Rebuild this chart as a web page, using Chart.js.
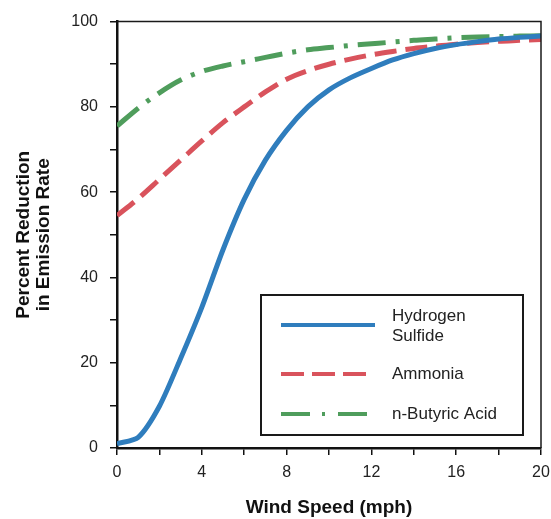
<!DOCTYPE html>
<html lang="en">
<head>
<meta charset="UTF-8">
<title>Percent Reduction in Emission Rate vs Wind Speed</title>
<script src="https://cdn.jsdelivr.net/npm/chart.js@4/dist/chart.umd.min.js"></script>
<style>
    body { margin: 0; background: #fff; }
    .chart-box { width: 551px; height: 519px; }
</style>
</head>
<body>
<div class="chart-box"><canvas id="emissionChart"></canvas></div>
<script>
    // wind speed (mph)
    const windSpeed = [0, 1, 2, 3, 4, 5, 6, 7, 8, 9, 10, 11, 12, 13, 14, 15, 16, 17, 18, 19, 20];
    const hydrogenSulfide = [1, 2.5, 9.8, 21, 33, 46.5, 58.3, 67.5, 74.5, 80, 84, 86.8, 89, 91, 92.5, 93.7, 94.6, 95.3, 95.9, 96.3, 96.6];
    const ammonia = [54.5, 58.5, 63, 67.5, 72, 76.3, 80, 83.5, 86.5, 88.5, 90, 91.2, 92.2, 93, 93.7, 94.2, 94.7, 95.1, 95.4, 95.6, 95.8];
    const butyricAcid = [75.5, 79.7, 83.3, 86.3, 88.3, 89.6, 90.6, 91.6, 92.6, 93.4, 93.9, 94.4, 94.8, 95.2, 95.6, 95.9, 96.2, 96.4, 96.5, 96.6, 96.7];
    const seriesNames = [['Hydrogen', 'Sulfide'], ['Ammonia'], ['n-Butyric Acid']];

    const toPoints = vals => vals.map((v, i) => ({ x: windSpeed[i], y: v }));
    const FONT = '"Liberation Sans", Arial, sans-serif';

    // box round the plot and the framed legend
    const frameAndLegend = {
        id: 'frameAndLegend',
        afterDraw(chart) {
            const ctx = chart.ctx;
            const a = chart.chartArea;
            ctx.save();
            ctx.strokeStyle = '#1a1a1a';
            ctx.lineWidth = 1.5;
            ctx.beginPath();
            ctx.moveTo(a.left, a.top);
            ctx.lineTo(a.right, a.top);
            ctx.lineTo(a.right, a.bottom);
            ctx.stroke();

            // legend
            const bx = 261, by = 295, bw = 262, bh = 140;
            ctx.lineWidth = 2;
            ctx.strokeRect(bx, by, bw, bh);
            const rows = [325, 374, 414];
            const legendDash = [[], [23, 8], [29, 12, 3, 13]];
            ctx.font = '17px ' + FONT;
            ctx.textBaseline = 'middle';
            chart.data.datasets.forEach((ds, i) => {
                const y = rows[i];
                ctx.strokeStyle = ds.borderColor;
                ctx.lineWidth = 4;
                ctx.setLineDash(legendDash[i]);
                ctx.beginPath();
                ctx.moveTo(281, y);
                ctx.lineTo(i === 0 ? 375 : 367, y);
                ctx.stroke();
                ctx.setLineDash([]);
                ctx.fillStyle = '#222';
                const lines = seriesNames[i];
                const ty = lines.length > 1 ? y - 9 : y;
                lines.forEach((t, k) => ctx.fillText(t, 392, ty + k * 20));
            });
            ctx.restore();
        }
    };

    const ctx = document.getElementById('emissionChart').getContext('2d');
    new Chart(ctx, {
        type: 'line',
        data: {
            datasets: [{
                label: 'Hydrogen Sulfide',
                data: toPoints(hydrogenSulfide),
                borderColor: '#2f7dbd',
                borderWidth: 5,
                pointRadius: 0,
                tension: 0.25
            }, {
                label: 'Ammonia',
                data: toPoints(ammonia),
                borderColor: '#d9535c',
                borderWidth: 5,
                borderDash: [22, 9],
                pointRadius: 0,
                cubicInterpolationMode: 'monotone'
            }, {
                label: 'n-Butyric Acid',
                data: toPoints(butyricAcid),
                borderColor: '#4f9d5c',
                borderWidth: 5,
                borderDash: [28, 10, 4, 10],
                pointRadius: 0,
                cubicInterpolationMode: 'monotone'
            }]
        },
        options: {
            responsive: true,
            maintainAspectRatio: false,
            animation: false,
            layout: { padding: { top: 21, right: 10, left: 0, bottom: 0 } },
            plugins: {
                legend: { display: false },
                tooltip: { enabled: false }
            },
            scales: {
                x: {
                    type: 'linear',
                    min: 0,
                    max: 20,
                    afterFit(scale) {
                        scale.height = 71;
                        scale.paddingLeft = 0;
                        scale.paddingRight = 0;
                    },
                    border: { display: true, color: '#111', width: 2.5 },
                    grid: { drawOnChartArea: false, drawTicks: true, tickLength: 7, color: '#111', lineWidth: 1.5 },
                    ticks: {
                        stepSize: 2,
                        padding: 8,
                        color: '#222',
                        font: { family: FONT, size: 16 },
                        maxRotation: 0,
                        callback: v => (v % 4 === 0 ? v : '')
                    },
                    title: {
                        display: true,
                        text: 'Wind Speed (mph)',
                        color: '#111',
                        font: { family: FONT, size: 19, weight: 'bold' },
                        padding: { top: 14, bottom: 0 }
                    }
                },
                y: {
                    min: 0,
                    max: 100,
                    afterFit(scale) { scale.width = 117; },
                    border: { display: true, color: '#111', width: 2.5 },
                    grid: { drawOnChartArea: false, drawTicks: true, tickLength: 7, color: '#111', lineWidth: 1.5 },
                    ticks: {
                        stepSize: 10,
                        padding: 12,
                        color: '#222',
                        font: { family: FONT, size: 16 },
                        callback: v => (v % 20 === 0 ? v : '')
                    },
                    title: {
                        display: true,
                        text: ['Percent Reduction', 'in Emission Rate'],
                        color: '#111',
                        font: { family: FONT, size: 19, weight: 'bold', lineHeight: 1.05 },
                        padding: { top: 14, bottom: 0 }
                    }
                }
            }
        },
        plugins: [frameAndLegend]
    });
</script>
</body>
</html>
